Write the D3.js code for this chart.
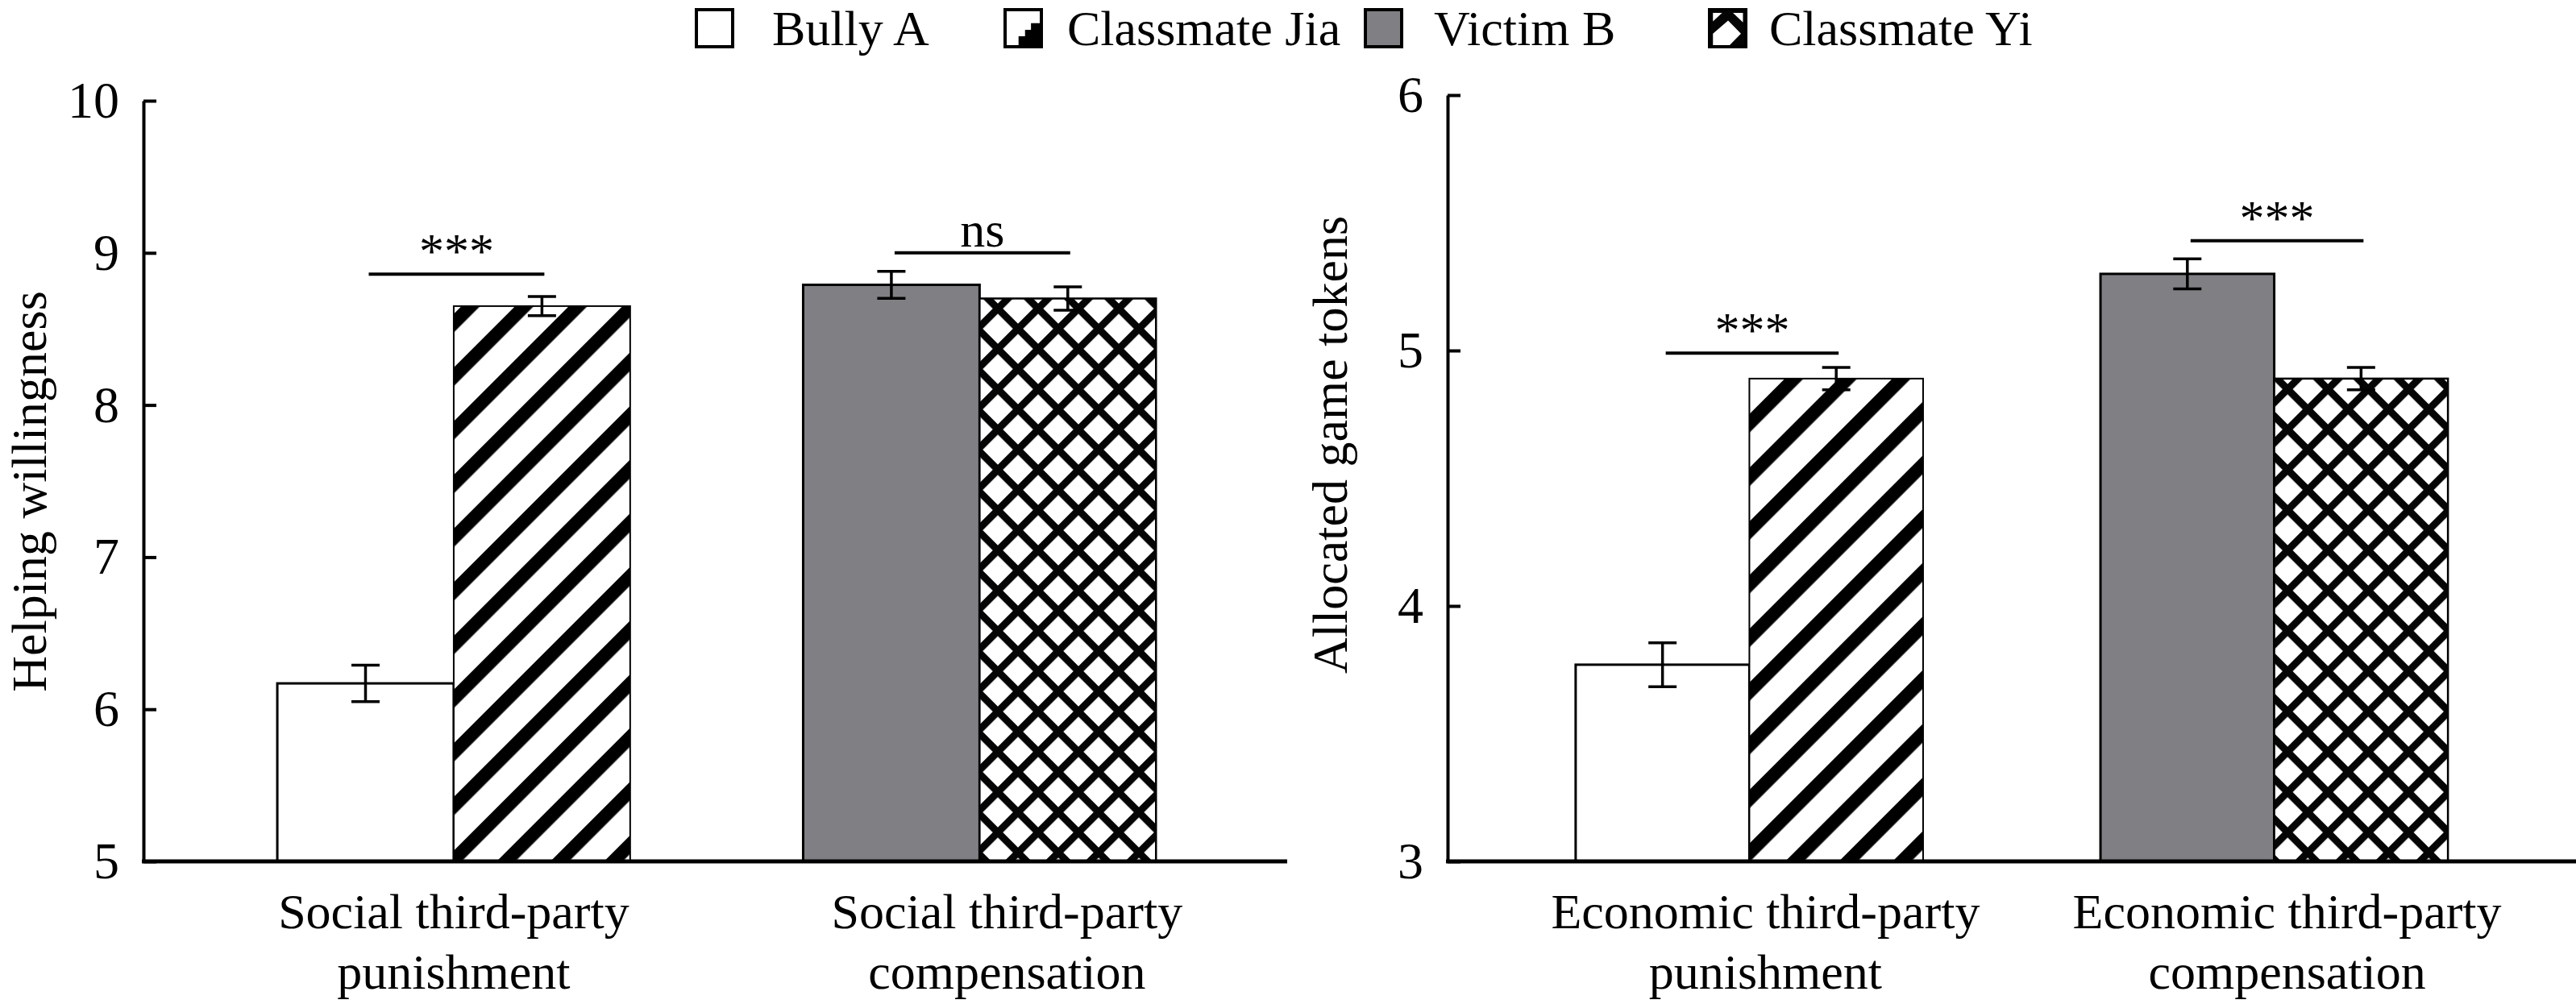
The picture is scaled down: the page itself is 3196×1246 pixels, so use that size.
<!DOCTYPE html>
<html>
<head>
<meta charset="utf-8">
<script src="https://cdn.jsdelivr.net/npm/d3@7/dist/d3.min.js"></script>
<style>
  html, body { margin: 0; padding: 0; background: #fff; }
  svg { display: block; }
  text { font-family: "Liberation Serif", "Times New Roman", serif; fill: #000; }
</style>
</head>
<body>
<svg id="chart" width="3196" height="1246"></svg>
<script>
// ---------------- DATA ----------------
const targets = ["Bully A", "Classmate Jia", "Victim B", "Classmate Yi"];
const groupTargets = [["Bully A", "Classmate Jia"], ["Victim B", "Classmate Yi"]];

const socialCategories = [["Social third-party", "punishment"], ["Social third-party", "compensation"]];
const economicCategories = [["Economic third-party", "punishment"], ["Economic third-party", "compensation"]];

const helpMeans = [6.17, 8.65, 8.79, 8.70];
const helpSE    = [0.12, 0.063, 0.089, 0.077];
const tokenMeans = [3.77, 4.89, 5.30, 4.89];
const tokenSE    = [0.086, 0.044, 0.059, 0.044];

const helpTicks  = [5, 6, 7, 8, 9, 10];
const tokenTicks = [3, 4, 5, 6];

const helpSigLabels  = ["***", "ns"];
const helpSigLevels  = [8.86, 9.0];
const tokenSigLabels = ["***", "***"];
const tokenSigLevels = [4.99, 5.43];

const helpTitle  = "Helping willingness";
const tokenTitle = "Allocated game tokens";

// ---------------- STYLE / LAYOUT ----------------
const fills = {
  "Bully A": "#ffffff",
  "Classmate Jia": "url(#stripe)",
  "Victim B": "#807f84",
  "Classmate Yi": "url(#cross)"
};
const strokes = { "Bully A": 3, "Classmate Jia": 2, "Victim B": 3, "Classmate Yi": 2.5 };

const svg = d3.select("#chart");
const defs = svg.append("defs");

// stripe pattern "/"
const sp = 47.1;
const stripe = defs.append("pattern").attr("id", "stripe")
  .attr("patternUnits", "userSpaceOnUse").attr("width", sp).attr("height", sp)
  .attr("patternTransform", "translate(20,0) rotate(45)");
stripe.append("rect").attr("width", sp).attr("height", sp).attr("fill", "#fff");
stripe.append("rect").attr("width", 16.3).attr("height", sp).attr("fill", "#000");

// crosshatch pattern
const cp = 35.36;
const cross = defs.append("pattern").attr("id", "cross")
  .attr("patternUnits", "userSpaceOnUse").attr("width", cp).attr("height", cp)
  .attr("patternTransform", "translate(1238,383) rotate(45) translate(-4.5,-4.5)");
cross.append("rect").attr("width", cp).attr("height", cp).attr("fill", "#fff");
cross.append("rect").attr("width", 9).attr("height", cp).attr("fill", "#050505");
cross.append("rect").attr("width", cp).attr("height", 9).attr("fill", "#050505");

const panels = [
  { cats: socialCategories, means: helpMeans, se: helpSE, ticks: helpTicks,
    domain: [5, 10], yr: [1069, 125], x0: 178, x1: 1597, pi: 0.329, po: 0.252, align: 0.505,
    sigLabels: helpSigLabels, sigLevels: helpSigLevels, title: helpTitle,
    titleX: 57, titleY: 610, labelShift: [0, 34] },
  { cats: economicCategories, means: tokenMeans, se: tokenSE, ticks: tokenTicks,
    domain: [3, 6], yr: [1069, 118], x0: 1796, x1: 3196, pi: 0.338, po: 0.244, align: 0.5,
    sigLabels: tokenSigLabels, sigLevels: tokenSigLevels, title: tokenTitle,
    titleX: 1671, titleY: 552, labelShift: [20, 16] }
];

panels.forEach(p => {
  const g = svg.append("g");
  const y = d3.scaleLinear().domain(p.domain).range(p.yr);
  const groupIdx = [0, 1];
  const x = d3.scaleBand().domain(groupIdx).range([p.x0, p.x1])
    .paddingInner(p.pi).paddingOuter(p.po).align(p.align);
  const xs = d3.scaleBand().domain([0, 1]).range([0, x.bandwidth()]);

  // bars
  groupIdx.forEach(gi => {
    groupTargets[gi].forEach((t, j) => {
      const k = targets.indexOf(t);
      const v = p.means[k], e = p.se[k];
      const bx = x(gi) + xs(j);
      const bw = xs.bandwidth();
      g.append("rect")
        .attr("x", bx).attr("y", y(v))
        .attr("width", bw).attr("height", y(p.domain[0]) - y(v))
        .attr("fill", fills[t]).attr("stroke", "#000").attr("stroke-width", strokes[t]);
      const cx = bx + bw / 2;
      const eg = g.append("g").attr("stroke", "#000").attr("stroke-width", 3.5);
      eg.append("line").attr("x1", cx).attr("x2", cx).attr("y1", y(v + e)).attr("y2", y(v - e));
      eg.append("line").attr("x1", cx - 17.5).attr("x2", cx + 17.5).attr("y1", y(v + e)).attr("y2", y(v + e));
      eg.append("line").attr("x1", cx - 17.5).attr("x2", cx + 17.5).attr("y1", y(v - e)).attr("y2", y(v - e));
    });

    // significance
    const c1 = x(gi) + xs(0) + xs.bandwidth() / 2 + 4;
    const c2 = x(gi) + xs(1) + xs.bandwidth() / 2 + 3;
    const ly = y(p.sigLevels[gi]);
    g.append("line").attr("x1", c1).attr("x2", c2).attr("y1", ly).attr("y2", ly)
      .attr("stroke", "#000").attr("stroke-width", 4);
    g.append("text").attr("x", (c1 + c2) / 2).attr("y", ly - 8)
      .attr("text-anchor", "middle").attr("font-size", 62).text(p.sigLabels[gi]);

    // category labels
    const lx = x(gi) + x.bandwidth() / 2 + p.labelShift[gi];
    const t = g.append("text").attr("text-anchor", "middle").attr("font-size", 62);
    p.cats[gi].forEach((line, li) => {
      t.append("tspan").attr("x", lx).attr("y", 1152 + li * 75).text(line);
    });
  });

  // y axis
  const ax = g.append("g").attr("transform", `translate(${p.x0},0)`)
    .call(d3.axisLeft(y).tickValues(p.ticks).tickFormat(d3.format("d"))
      .tickSizeInner(-16).tickSizeOuter(0).tickPadding(30));
  ax.selectAll("path.domain").attr("stroke", "#000").attr("stroke-width", 4);
  ax.selectAll(".tick line").attr("stroke", "#000").attr("stroke-width", 4);
  ax.selectAll(".tick text").attr("font-size", 64)
    .attr("font-family", "Liberation Serif, Times New Roman, serif").attr("fill", "#000");

  // x baseline
  g.append("line").attr("x1", p.x0 - 2).attr("x2", p.x1).attr("y1", y(p.domain[0])).attr("y2", y(p.domain[0]))
    .attr("stroke", "#000").attr("stroke-width", 5);

  // y title
  g.append("text").attr("transform", `translate(${p.titleX},${p.titleY}) rotate(-90)`)
    .attr("text-anchor", "middle").attr("font-size", 62).text(p.title);
});

// ---------------- LEGEND ----------------
const legendBoxX = [864, 1247, 1694, 2121];
const legendTextX = [958, 1324, 1779, 2195];
const bw = 45, bh = 46, by = 12, legendBaseline = 56;
const lg = svg.append("g");
targets.forEach((t, i) => {
  const x0 = legendBoxX[i];
  const box = lg.append("g").attr("transform", `translate(${x0},${by})`);
  if (t === "Bully A") {
    box.append("rect").attr("width", bw).attr("height", bh).attr("fill", "#fff");
  } else if (t === "Victim B") {
    box.append("rect").attr("width", bw).attr("height", bh).attr("fill", "#807f84");
  } else if (t === "Classmate Jia") {
    box.append("rect").attr("width", bw).attr("height", bh).attr("fill", "#fff");
    const pts = [[0.371,1],[0.371,0.718],[0.55,0.718],[0.55,0.542],[0.714,0.542],[0.714,0.366],[1,0.366],[1,1]];
    box.append("polygon").attr("points", pts.map(q => [q[0]*bw, q[1]*bh].join(",")).join(" ")).attr("fill", "#000");
  } else {
    box.append("rect").attr("width", bw).attr("height", bh).attr("fill", "#050505");
    const polys = [
      [[0.094,0.648],[0.512,0.296],[0.866,0.648],[0.512,1.0],[0.094,1.0]],
      [[0.094,0.085],[0.346,0.085],[0.094,0.317]],
      [[0.646,0.085],[0.921,0.085],[0.921,0.345]]
    ];
    polys.forEach(pl => box.append("polygon")
      .attr("points", pl.map(q => [q[0]*bw, q[1]*bh].join(",")).join(" ")).attr("fill", "#fff"));
  }
  box.append("rect").attr("width", bw).attr("height", bh).attr("fill", "none")
    .attr("stroke", "#000").attr("stroke-width", 4);
  lg.append("text").attr("x", legendTextX[i]).attr("y", legendBaseline).attr("font-size", 62).text(t);
});
</script>
</body>
</html>
